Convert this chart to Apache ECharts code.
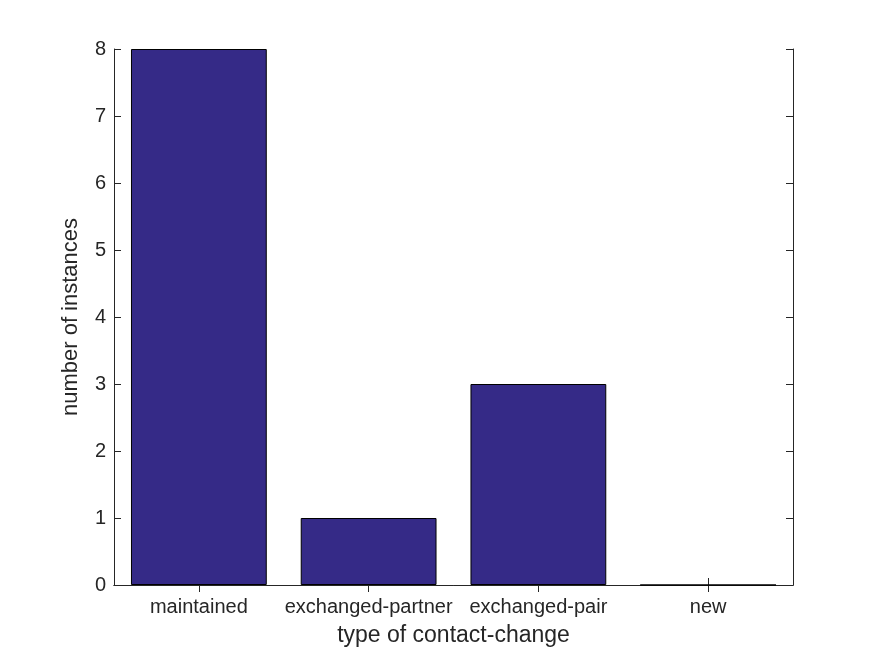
<!DOCTYPE html>
<html>
<head>
<meta charset="utf-8">
<script src="https://cdn.jsdelivr.net/npm/echarts@6/dist/echarts.min.js"></script>
<style>
  html, body { margin: 0; padding: 0; background: #fff; }
  #chart { width: 875px; height: 656px; }
</style>
</head>
<body>
<div id="chart"></div>
<script>
// bar chart: contact-change types
const categories = ["maintained", "exchanged-partner", "exchanged-pair", "new"];
const instances = [8, 1, 3, 0];
const yTicks = { min: 0, max: 8, interval: 1 };

const textColor = "#262626";
const font = "Liberation Sans, Arial, sans-serif";

let myChart = echarts.init(document.getElementById("chart"), null, { renderer: "canvas" });

const boxAxisLine = { show: true, lineStyle: { color: textColor, width: 1 } };
const innerTick = { show: true, inside: true, length: 7, lineStyle: { color: textColor } };

myChart.setOption({
  animation: false,
  backgroundColor: "#ffffff",
  grid: { left: 114, top: 49, width: 679, height: 536, containLabel: false },
  xAxis: [
    {
      type: "category",
      data: categories,
      position: "bottom",
      axisLine: boxAxisLine,
      axisTick: Object.assign({ alignWithLabel: true }, innerTick),
      axisLabel: { color: textColor, fontSize: 20, fontFamily: font, margin: 12, interval: 0, hideOverlap: false },
      name: "type of contact-change",
      nameLocation: "middle",
      nameGap: 39,
      nameTextStyle: { color: textColor, fontSize: 23, fontFamily: font },
      splitLine: { show: false }
    },
    {
      type: "category",
      data: categories,
      position: "top",
      axisLine: boxAxisLine,
      axisTick: Object.assign({ alignWithLabel: true }, innerTick),
      axisLabel: { show: false },
      splitLine: { show: false }
    }
  ],
  yAxis: [
    {
      type: "value",
      min: yTicks.min,
      max: yTicks.max,
      interval: yTicks.interval,
      position: "left",
      axisLine: boxAxisLine,
      axisTick: innerTick,
      axisLabel: { color: textColor, fontSize: 20, fontFamily: font, margin: 8 },
      name: "number of instances",
      nameLocation: "middle",
      nameGap: 32,
      nameTextStyle: { color: textColor, fontSize: 22, fontFamily: font },
      splitLine: { show: false }
    },
    {
      type: "value",
      min: yTicks.min,
      max: yTicks.max,
      interval: yTicks.interval,
      position: "right",
      axisLine: boxAxisLine,
      axisTick: innerTick,
      axisLabel: { show: false },
      splitLine: { show: false }
    }
  ],
  series: [
    {
      type: "bar",
      data: instances,
      xAxisIndex: 0,
      yAxisIndex: 0,
      barWidth: "80%",
      itemStyle: { color: "#352a87", borderColor: "#000000", borderWidth: 1 }
    }
  ]
});
</script>
</body>
</html>
